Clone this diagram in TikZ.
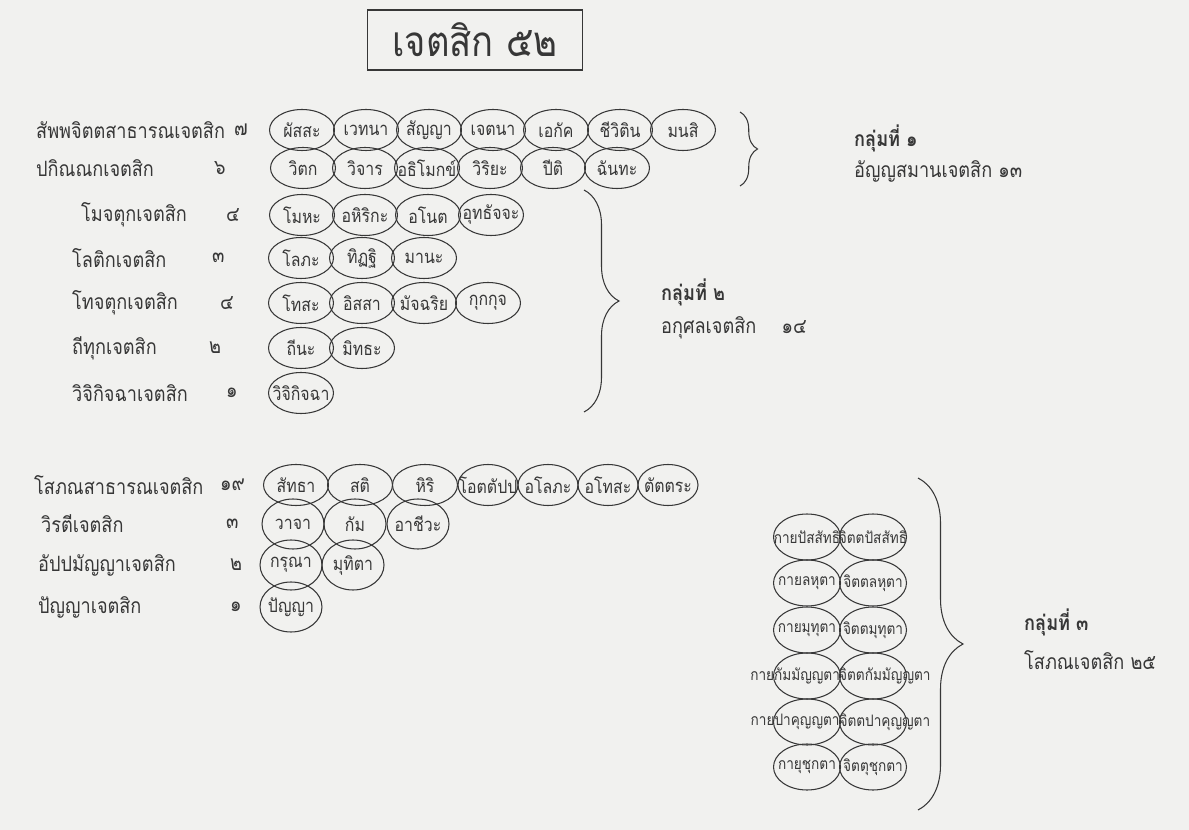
\documentclass[tikz,border=0pt]{standalone}
\usepackage{fontspec}
\newfontfamily\thaifont[Script=Thai, FakeStretch=0.86]{Loma}
\usetikzlibrary{shapes.geometric,decorations.pathreplacing}

\definecolor{paper}{RGB}{241,241,239}
\definecolor{ink}{RGB}{55,55,55}
\newcommand{\ov}[1]{\makebox[0pt]{#1}}

\tikzset{
  oval/.style={ellipse, draw=ink, line width=0.6pt, minimum width=1.3cm, minimum height=0.82cm, inner sep=0pt, font=\thaifont\fontsize{10.5}{12}\selectfont},
  tall/.style={oval, minimum width=1.24cm, minimum height=1cm},
  pair/.style={oval, minimum width=1.34cm, minimum height=0.92cm, font=\thaifont\fontsize{9}{11}\selectfont},
  rowname/.style={anchor=west, text=ink, font=\thaifont\fontsize{12}{14}\selectfont},
  grpname/.style={anchor=west, text=ink, font=\thaifont\fontsize{12}{14}\selectfont},
  bracket/.style={draw=ink, line width=0.6pt, decorate, decoration={brace, amplitude=#1}}
}

\begin{document}
\begin{tikzpicture}[x=0.02cm, y=-0.02cm, text=ink]
  \fill[paper] (0,0) rectangle (1189,830);
  \useasboundingbox (0,0) rectangle (1189,830);

  % title
  \node[draw=ink, line width=0.6pt, minimum width=4.3cm, minimum height=1.2cm, font=\thaifont\fontsize{24}{28}\selectfont] (title) at (475,40) {เจตสิก ๕๒};

  % group 1
  \node[rowname] (l1) at (30,130) {สัพพจิตตสาธารณเจตสิก};
  \node[rowname] (n1) at (228,130) {๗};
  \node[oval] (a1) at (302,130) {\ov{ผัสสะ}};
  \node[oval] (a2) at (366,130) {\ov{เวทนา}};
  \node[oval] (a3) at (429,130) {\ov{สัญญา}};
  \node[oval] (a4) at (493,130) {\ov{เจตนา}};
  \node[oval] (a5) at (556,130) {\ov{เอกัค}};
  \node[oval] (a6) at (620,130) {\ov{ชีวิติน}};
  \node[oval] (a7) at (683,130) {\ov{มนสิ}};

  \node[rowname] (l2) at (30,168) {ปกิณณกเจตสิก};
  \node[rowname] (n2) at (208,168) {๖};
  \node[oval] (b1) at (303,168) {\ov{วิตก}};
  \node[oval] (b2) at (365,168) {\ov{วิจาร}};
  \node[oval] (b3) at (427,168) {\ov{อธิโมกข์}};
  \node[oval] (b4) at (490,168) {\ov{วิริยะ}};
  \node[oval] (b5) at (553,168) {\ov{ปีติ}};
  \node[oval] (b6) at (617,168) {\ov{ฉันทะ}};

  \coordinate (b1t) at (740,112);
  \coordinate (b1b) at (740,186);
  \draw[bracket=0.35cm] (b1t) -- (b1b);
  \node[grpname, font=\thaifont\bfseries\fontsize{12}{14}\selectfont] (g1) at (848,138) {กลุ่มที่ ๑};
  \node[grpname] (g1s) at (848,171) {อัญญสมานเจตสิก ๑๓};

  % group 2
  \node[rowname] (l3) at (75,215) {โมจตุกเจตสิก};
  \node[rowname] (n3) at (220,215) {๔};
  \node[oval] (c1) at (302,215) {\ov{โมหะ}};
  \node[oval] (c2) at (365,215) {\ov{อหิริกะ}};
  \node[oval] (c3) at (428,215) {\ov{อโนต}};
  \node[oval] (c4) at (491,215) {\ov{อุทธัจจะ}};

  \node[rowname] (l4) at (66,258) {โลติกเจตสิก};
  \node[rowname] (n4) at (206,258) {๓};
  \node[oval] (d1) at (301,258) {\ov{โลภะ}};
  \node[oval] (d2) at (362,258) {\ov{ทิฏฐิ}};
  \node[oval] (d3) at (424,258) {\ov{มานะ}};

  \node[rowname] (l5) at (66,303) {โทจตุกเจตสิก};
  \node[rowname] (n5) at (214,303) {๔};
  \node[oval] (e1) at (301,303) {\ov{โทสะ}};
  \node[oval] (e2) at (362,303) {\ov{อิสสา}};
  \node[oval] (e3) at (424,303) {\ov{มัจฉริย}};
  \node[oval] (e4) at (488,303) {\ov{กุกกุจ}};

  \node[rowname] (l6) at (66,348) {ถีทุกเจตสิก};
  \node[rowname] (n6) at (203,348) {๒};
  \node[oval] (f1) at (301,348) {\ov{ถีนะ}};
  \node[oval] (f2) at (362,348) {\ov{มิทธะ}};

  \node[rowname] (l7) at (66,393) {วิจิกิจฉาเจตสิก};
  \node[rowname] (n7) at (220,393) {๑};
  \node[oval] (g) at (301,393) {\ov{วิจิกิจฉา}};

  \coordinate (b2t) at (584,190);
  \coordinate (b2b) at (584,412);
  \draw[bracket=0.7cm] (b2t) -- (b2b);
  \node[grpname, font=\thaifont\bfseries\fontsize{12}{14}\selectfont] (g2) at (655,292) {กลุ่มที่ ๒};
  \node[grpname] (g2s) at (655,328) {อกุศลเจตสิก\hspace{1.2em}๑๔};

  % group 3
  \node[rowname] (l8) at (28,485) {โสภณสาธารณเจตสิก};
  \node[rowname] (n8) at (214,485) {๑๙};
  \node[oval] (h1) at (296,485) {\ov{สัทธา}};
  \node[oval] (h2) at (360,485) {\ov{สติ}};
  \node[oval] (h3) at (425,485) {\ov{หิริ}};
  \node[oval, minimum width=1.2cm] (h4) at (488,485) {\ov{โอตตัปป}};
  \node[oval, minimum width=1.2cm] (h5) at (548,485) {\ov{อโลภะ}};
  \node[oval, minimum width=1.2cm] (h6) at (608,485) {\ov{อโทสะ}};
  \node[oval, minimum width=1.2cm] (h7) at (668,485) {\ov{ตัตตระ}};

  \node[rowname] (l9) at (35,524) {วิรตีเจตสิก};
  \node[rowname] (n9) at (220,524) {๓};
  \node[tall] (i1) at (293,524) {\ov{วาจา}};
  \node[tall] (i2) at (355,524) {\ov{กัม}};
  \node[tall] (i3) at (418,524) {\ov{อาชีวะ}};

  \node[rowname] (l10) at (32,565) {อัปปมัญญาเจตสิก};
  \node[rowname] (n10) at (224,565) {๒};
  \node[tall] (j1) at (291,565) {\ov{กรุณา}};
  \node[tall] (j2) at (353,565) {\ov{มุทิตา}};

  \node[rowname] (l11) at (32,607) {ปัญญาเจตสิก};
  \node[rowname] (n11) at (224,607) {๑};
  \node[tall] (k1) at (291,607) {\ov{ปัญญา}};

  \node[pair] (kay1) at (807,537) {\ov{กายปัสสัทธิ}};
  \node[pair] (cit1) at (873,537) {\ov{จิตตปัสสัทธิ}};
  \node[pair] (kay2) at (807,583) {\ov{กายลหุตา}};
  \node[pair] (cit2) at (873,583) {\ov{จิตตลหุตา}};
  \node[pair] (kay3) at (807,630) {\ov{กายมุทุตา}};
  \node[pair] (cit3) at (873,630) {\ov{จิตตมุทุตา}};
  \node[pair] (kay4) at (807,676) {\ov{\hspace{-1.5em}กายกัมมัญญตา}};
  \node[pair] (cit4) at (873,676) {\ov{\hspace{1.5em}จิตตกัมมัญญตา}};
  \node[pair] (kay5) at (807,722) {\ov{\hspace{-1.5em}กายปาคุญญตา}};
  \node[pair] (cit5) at (873,722) {\ov{\hspace{1.5em}จิตตปาคุญญตา}};
  \node[pair] (kay6) at (807,767) {\ov{กายุชุกตา}};
  \node[pair] (cit6) at (873,767) {\ov{จิตตุชุกตา}};

  \coordinate (b3t) at (918,478);
  \coordinate (b3b) at (918,810);
  \draw[bracket=0.9cm] (b3t) -- (b3b);
  \node[grpname, font=\thaifont\bfseries\fontsize{12}{14}\selectfont] (g3) at (1018,622) {กลุ่มที่ ๓};
  \node[grpname] (g3s) at (1018,660) {โสภณเจตสิก ๒๕};
\end{tikzpicture}
\end{document}
